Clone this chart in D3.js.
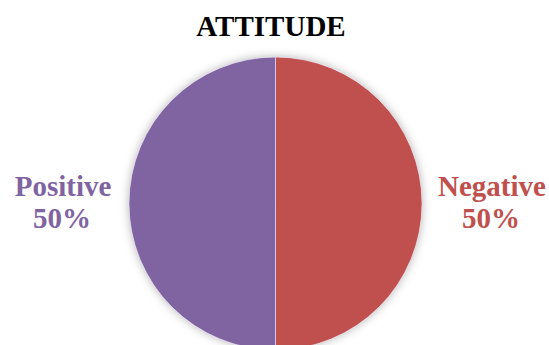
<!DOCTYPE html>
<html><head><meta charset="utf-8">
<script src="https://cdn.jsdelivr.net/npm/d3@7"></script>
<style>html,body{margin:0;padding:0;background:#fff;overflow:hidden}</style>
</head><body>
<script>
const categories = ["Negative", "Positive"];
const values = [50, 50];
const labels = ["50%", "50%"];
const colors = ["#C0504D", "#8064A2"];

const W = 549, H = 345;
const svg = d3.select("body").append("svg").attr("width", W).attr("height", H);

const defs = svg.append("defs");
const f = defs.append("filter").attr("id", "sh").attr("x", "-20%").attr("y", "-20%").attr("width", "140%").attr("height", "140%");
f.append("feDropShadow").attr("dx", 0).attr("dy", 0).attr("stdDeviation", 5).attr("flood-color", "#000").attr("flood-opacity", 0.3);

svg.append("text").attr("x", 271).attr("y", 36).attr("text-anchor", "middle")
  .style("font-family", "'Liberation Serif','Times New Roman',serif").style("font-weight", "bold")
  .style("font-size", "29px").attr("fill", "#000").text("ATTITUDE");

const cx = 275.5, cy = 203.5, r = 146.5;
const pie = d3.pie().sort(null).value(d => d)(values);
const arc = d3.arc().innerRadius(0).outerRadius(r);
const g = svg.append("g").attr("transform", `translate(${cx},${cy})`);
g.append("circle").attr("r", r).attr("fill", "#fff").attr("filter", "url(#sh)");
g.selectAll("path").data(pie).join("path").attr("d", arc)
  .attr("fill", (d, i) => colors[i]).attr("stroke", "#e8e0f0").attr("stroke-width", 0.7);

const labelPos = [[492, 196], [63, 196]];
categories.forEach((c, i) => {
  const t = svg.append("text").attr("text-anchor", "middle")
    .style("font-family", "'Liberation Serif','Times New Roman',serif").style("font-weight", "bold")
    .style("font-size", "29px").attr("fill", colors[i]);
  t.append("tspan").attr("x", labelPos[i][0]).attr("y", labelPos[i][1]).text(c);
  t.append("tspan").attr("x", labelPos[i][0] - 1).attr("y", labelPos[i][1] + 32).text(labels[i]);
});
</script>
</body></html>
